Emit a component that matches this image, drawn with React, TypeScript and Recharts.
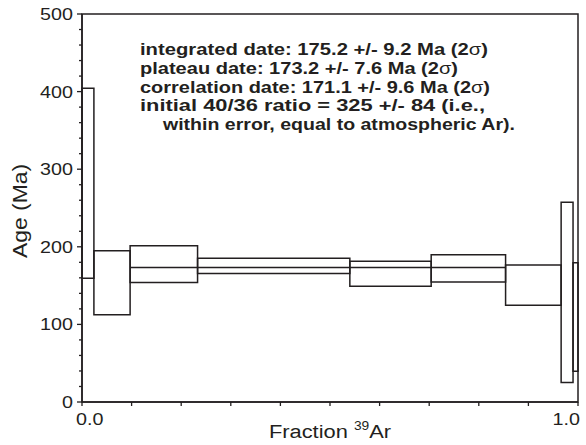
import { ComposedChart, XAxis, YAxis, ReferenceArea, Line } from "recharts";

// cumulative 39Ar fraction at the step boundaries
const fractionEdges = [0, 0.024, 0.097, 0.233, 0.54, 0.704, 0.854, 0.966, 0.99, 1.0];
// 2-sigma envelope of each heating step (Ma)
const ageHigh = [404.4, 194.8, 201.3, 185.4, 181.5, 189.7, 176.4, 257.3, 179.4];
const ageLow = [159.5, 112.3, 154.1, 165.7, 149.3, 154.8, 124.8, 25.0, 39.6];
// plateau steps 3-6
const plateauFrom = 0.097;
const plateauTo = 0.854;
const plateauAge = 173.2;

const xTicks = [0, 0.1, 0.2, 0.3, 0.4, 0.5, 0.6, 0.7, 0.8, 0.9, 1.0];
const xTickLabels: Record<string, string> = { "0": "0.0", "1": "1.0" };
const yTicks = [
  0, 20, 40, 60, 80, 100, 120, 140, 160, 180, 200, 220, 240, 260, 280, 300,
  320, 340, 360, 380, 400, 420, 440, 460, 480, 500,
];

const notes = [
  { pre: "integrated date: 175.2 +/- 9.2 Ma (2", sig: true, len: 348 },
  { pre: "plateau date: 173.2 +/- 7.6 Ma (2", sig: true, len: 318 },
  { pre: "correlation date: 171.1 +/- 9.6 Ma (2", sig: true, len: 350 },
  { pre: "initial 40/36 ratio = 325 +/- 84 (i.e.,", sig: false, len: 345 },
  { pre: "within error, equal to atmospheric Ar).", sig: false, len: 352 },
];

const INK = "#231f20";
const FONT = "'Liberation Sans', Arial, sans-serif";

const steps = ageHigh.map((hi, i) => ({
  x1: fractionEdges[i],
  x2: fractionEdges[i + 1],
  hi,
  lo: ageLow[i],
}));

const plateau = [
  { f: plateauFrom, age: plateauAge },
  { f: plateauTo, age: plateauAge },
];

function YTick(props: any) {
  const { x, y, payload } = props;
  const major = payload.value % 100 === 0;
  return (
    <g>
      <line x1={x - (major ? 5 : 3)} x2={x} y1={y} y2={y} stroke={INK} strokeWidth={1.3} />
      {major && (
        <text
          transform={`translate(${x - 9} ${y + 6}) scale(1.16 1)`}
          textAnchor="end"
          fontSize={17}
          fontFamily={FONT}
          fill={INK}
        >
          {payload.value}
        </text>
      )}
    </g>
  );
}

function XTick(props: any) {
  const { x, y, payload } = props;
  const label = xTickLabels[String(payload.value)];
  const isLast = payload.value === 1;
  return (
    <g>
      <line x1={x} x2={x} y1={y} y2={y + 4} stroke={INK} strokeWidth={1.3} />
      {label && (
        <text
          transform={`translate(${isLast ? x + 2 : x - 6} ${y + 23}) scale(1.16 1)`}
          textAnchor={isLast ? "end" : "start"}
          fontSize={17}
          fontFamily={FONT}
          fill={INK}
        >
          {label}
        </text>
      )}
    </g>
  );
}

export default function App() {
  return (
    <div style={{ position: "absolute", left: 0, top: 0, width: 586, height: 445 }}>
      <ComposedChart
        width={586}
        height={445}
        data={plateau}
        margin={{ top: 14, right: 8, bottom: 0, left: 0 }}
      >
        <XAxis
          dataKey="f"
          type="number"
          domain={[0, 1]}
          ticks={xTicks}
          interval={0}
          height={43}
          tickSize={0}
          tickMargin={0}
          tickLine={false}
          tick={XTick}
          axisLine={{ stroke: INK, strokeWidth: 1.5 }}
        />
        <YAxis
          type="number"
          domain={[0, 500]}
          ticks={yTicks}
          interval={0}
          width={82}
          tickSize={0}
          tickMargin={0}
          tickLine={false}
          tick={YTick}
          axisLine={{ stroke: INK, strokeWidth: 1.5 }}
        />
        {/* plot frame */}
        <ReferenceArea
          x1={0}
          x2={1}
          y1={0}
          y2={500}
          fill="none"
          stroke={INK}
          strokeWidth={1.5}
          ifOverflow="visible"
        />
        {steps.map((s, i) => (
          <ReferenceArea
            key={i}
            x1={s.x1}
            x2={s.x2}
            y1={s.lo}
            y2={s.hi}
            fill="none"
            stroke={INK}
            strokeWidth={1.5}
            ifOverflow="visible"
          />
        ))}
        <Line
          dataKey="age"
          stroke={INK}
          strokeWidth={1.5}
          dot={false}
          isAnimationActive={false}
        />
      </ComposedChart>
      <svg
        width={586}
        height={445}
        style={{ position: "absolute", left: 0, top: 0, pointerEvents: "none" }}
      >
        {notes.map((n, i) => (
          <text
            key={i}
            x={i === 4 ? 163 : 140}
            y={55 + i * 18.75}
            fontSize={17}
            fontWeight="bold"
            fontFamily={FONT}
            fill={INK}
            textLength={n.len}
            lengthAdjust="spacingAndGlyphs"
          >
            {n.pre}
            {n.sig && (
              <>
                <tspan fontWeight="normal">σ</tspan>)
              </>
            )}
          </text>
        ))}
        <text
          transform="translate(27 211) rotate(-90)"
          textAnchor="middle"
          fontSize={20}
          fontFamily={FONT}
          fill={INK}
          textLength={94}
          lengthAdjust="spacingAndGlyphs"
        >
          Age (Ma)
        </text>
        <text
          transform="translate(330 438) scale(1.15 1)"
          textAnchor="middle"
          fontSize={19}
          fontFamily={FONT}
          fill={INK}
        >
          Fraction{" "}
          <tspan fontSize={12} dy={-8}>
            39
          </tspan>
          <tspan dy={8}>Ar</tspan>
        </text>
      </svg>
    </div>
  );
}
